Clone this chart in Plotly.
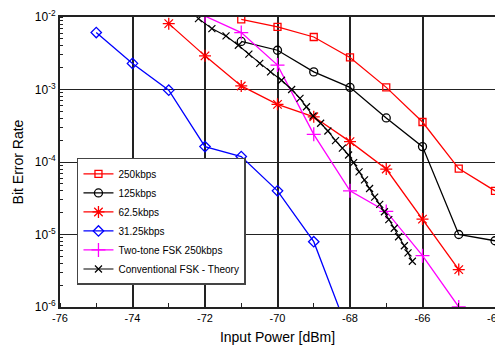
import plotly.graph_objects as go

# ---- data ----
x_250 = [-71, -70, -69, -68, -67, -66, -65, -64]
ber_250 = [9.3e-3, 7.3e-3, 5.3e-3, 2.77e-3, 1.07e-3, 3.56e-4, 8.1e-5, 4.0e-5]

x_125 = [-71, -70, -69, -68, -67, -66, -65, -64]
ber_125 = [4.6e-3, 3.48e-3, 1.75e-3, 1.07e-3, 4.05e-4, 1.63e-4, 1.0e-5, 8.2e-6]

x_62 = [-73, -72, -71, -70, -69, -68, -67, -66, -65]
ber_62 = [8.1e-3, 2.91e-3, 1.12e-3, 6.24e-4, 4.2e-4, 1.91e-4, 8.0e-5, 1.63e-5, 3.28e-6]

x_31 = [-75, -74, -73, -72, -71, -70, -69, -68]
ber_31 = [6.1e-3, 2.29e-3, 9.8e-4, 1.63e-4, 1.19e-4, 4.0e-5, 7.96e-6, 3.9e-7]

x_tt = [-72, -71, -70, -69, -68, -67, -66, -65]
ber_tt = [1.03e-2, 6.1e-3, 2.17e-3, 2.41e-4, 4.0e-5, 2.08e-5, 5.1e-6, 1.0e-6]

x_th = [-72.18, -71.81, -71.42, -71.08, -70.79, -70.49, -70.19, -69.89, -69.61, -69.38,
        -69.20, -69.02, -68.81, -68.61, -68.40, -68.21, -68.04, -67.90, -67.75, -67.60,
        -67.46, -67.32, -67.18, -67.05, -66.93, -66.78, -66.66, -66.50, -66.40, -66.28]
ber_th = [9.5e-3, 6.92e-3, 5.48e-3, 4.08e-3, 3.07e-3, 2.29e-3, 1.75e-3, 1.34e-3, 1.0e-3, 7.55e-4,
          5.78e-4, 4.31e-4, 3.42e-4, 2.68e-4, 1.97e-4, 1.55e-4, 1.25e-4, 9.8e-5, 7.3e-5, 5.68e-5,
          4.31e-5, 3.28e-5, 2.6e-5, 2.06e-5, 1.6e-5, 1.22e-5, 9.3e-6, 7.0e-6, 5.57e-6, 4.27e-6]

x_tickvals = [-76, -74, -72, -70, -68, -66, -64]
x_ticktext = ["-76", "-74", "-72", "-70", "-68", "-66", "-64"]
y_tickvals = [1e-6, 1e-5, 1e-4, 1e-3, 1e-2]
y_ticktext = ["10<sup>-6</sup>", "10<sup>-5</sup>", "10<sup>-4</sup>", "10<sup>-3</sup>", "10<sup>-2</sup>"]

FONT = "Liberation Sans, Arial, sans-serif"

fig = go.Figure()

def add(x, y, name, color, symbol, size, lw=1.3, mlw=1.3):
    fig.add_trace(go.Scatter(
        x=x, y=y, name=name, mode="lines+markers",
        line=dict(color=color, width=lw),
        marker=dict(symbol=symbol, size=size, color=color,
                    line=dict(color=color, width=mlw)),
    ))

add(x_250, ber_250, "250kbps", "#ff0000", "square-open", 7)
add(x_125, ber_125, "125kbps", "#000000", "circle-open", 8)
add(x_62, ber_62, "62.5kbps", "#ff0000", "asterisk-open", 10)
add(x_31, ber_31, "31.25kbps", "#0000ff", "diamond-open", 8)
add(x_tt, ber_tt, "Two-tone FSK 250kbps", "#ff00ff", "cross-thin-open", 10)
add(x_th, ber_th, "Conventional FSK - Theory", "#000000", "x-thin-open", 7, lw=1.1, mlw=1.2)

# the page places the figure 8px in from the top-left corner of the window
fig.update_layout(
    width=495, height=337,
    margin=dict(l=52, r=8, t=9, b=38, pad=0, autoexpand=False),
    paper_bgcolor="white", plot_bgcolor="white",
    font=dict(family=FONT, size=11, color="black"),
    showlegend=True,
    legend=dict(
        x=0.039, y=0.076, xanchor="left", yanchor="bottom",
        bgcolor="white", bordercolor="#444444", borderwidth=1.5,
        font=dict(family=FONT, size=10, color="black"),
        itemwidth=30, tracegroupgap=0,
    ),
)

fig.update_xaxes(
    range=[-76, -64], tickvals=x_tickvals, ticktext=x_ticktext,
    automargin=False,
    showgrid=True, gridcolor="#222222", gridwidth=2,
    showline=True, linecolor="#222222", linewidth=2, mirror=True,
    ticks="", zeroline=False,
    minor=dict(dtick=1, ticks="inside", ticklen=4, tickcolor="#222222", showgrid=False),
    title=dict(text="Input Power [dBm]", font=dict(family=FONT, size=14), standoff=11),
    tickfont=dict(family=FONT, size=11),
)
fig.update_yaxes(
    type="log", range=[-6, -2], tickvals=y_tickvals, ticktext=y_ticktext,
    automargin=False,
    showgrid=True, gridcolor="#222222", gridwidth=1.3,
    showline=True, linecolor="#222222", linewidth=2, mirror=True,
    ticks="", zeroline=False,
    minor=dict(dtick="D1", ticks="inside", ticklen=3, tickcolor="#222222", showgrid=False),
    title=dict(text="Bit Error Rate", font=dict(family=FONT, size=14), standoff=8),
    tickfont=dict(family=FONT, size=12),
)

fig.write_html("out.html")
